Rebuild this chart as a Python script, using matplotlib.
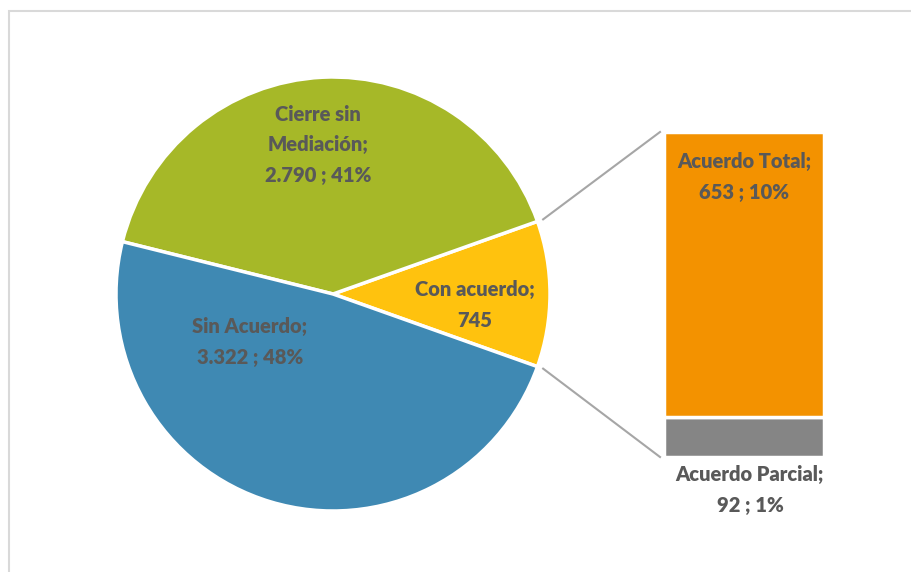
import numpy as np
import matplotlib
matplotlib.use("Agg")
import matplotlib.pyplot as plt
from matplotlib.patches import Rectangle

# Daten
pie_labels = ["Con acuerdo", "Cierre sin\nMediación", "Sin Acuerdo"]
pie_values = [745, 2790, 3322]
pie_colors = ["#FFC20E", "#A6B828", "#3F89B3"]

bar_labels = ["Acuerdo Parcial", "Acuerdo Total"]
bar_values = [92, 653]
bar_colors = ["#858585", "#F39200"]

total = sum(pie_values)
text_color = "#595959"
plt.rcParams['font.family'] = ['Lato', 'DejaVu Sans']


def fmt(v):
    return f"{v:,}".replace(",", ".")


W, H = 911, 572
fig = plt.figure(figsize=(W / 100, H / 100), dpi=100)
ax = fig.add_axes([0, 0, 1, 1])
ax.set_xlim(0, W)
ax.set_ylim(0, H)
ax.set_aspect('equal')
ax.axis('off')

# Rahmen
ax.add_patch(Rectangle((9, -20), 920, H - 11 + 20, fill=False, edgecolor="#D9D9D9", lw=1.5))

# Kreis
cx, cy, r = 333, H - 294, 217
start = -pie_values[0] / total * 180
ax.pie(pie_values, colors=pie_colors, startangle=start, counterclock=True,
       center=(cx, cy), radius=r, frame=True,
       wedgeprops=dict(edgecolor="white", linewidth=2.5))
ax.set_xlim(0, W)
ax.set_ylim(0, H)
ax.axis('off')

# Balken
bx, bw = 744, 160
bar_bottom = H - 457
scale = 325 / pie_values[0]
bottom = bar_bottom
for v, c in zip(bar_values, bar_colors):
    ax.bar(bx, v * scale, width=bw, bottom=bottom, color=c, edgecolor="white", linewidth=2.5)
    bottom += v * scale

# Verbindungslinien
a = np.deg2rad(start)
for ang, ytop in [(-a, bottom), (a, bar_bottom)]:
    x0 = cx + (r + 6) * np.cos(ang)
    y0 = cy + (r + 6) * np.sin(ang)
    ax.plot([x0, bx - bw / 2 - 4], [y0, ytop], color="#A6A6A6", lw=1.5)

# Beschriftungen
fs = 14.5
kw = dict(ha="center", va="center", color=text_color, fontsize=fs,
          fontweight="heavy", linespacing=1.7)
ax.text(318, H - 145, f"{pie_labels[1]};\n{fmt(pie_values[1])} ; {pie_values[1] / total:.0%}", **kw)
ax.text(250, H - 342, f"{pie_labels[2]};\n{fmt(pie_values[2])} ; {pie_values[2] / total:.0%}", **kw)
ax.text(475, H - 305, f"{pie_labels[0]};\n{fmt(pie_values[0])}", **kw)
ax.text(bx, H - 177, f"{bar_labels[1]};\n{fmt(bar_values[1])} ; {bar_values[1] / total:.0%}", **kw)
ax.text(bx + 6, H - 490, f"{bar_labels[0]};\n{fmt(bar_values[0])} ; {bar_values[0] / total:.0%}", **kw)

fig.savefig("out.png", dpi=100)
